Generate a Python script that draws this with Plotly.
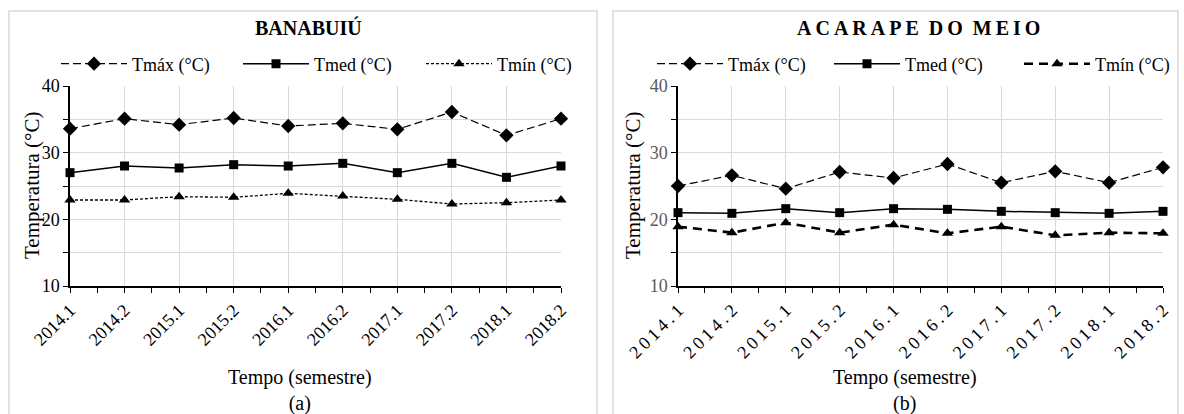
import plotly.graph_objects as go

W, H = 1184, 414

categories = ["2014.1", "2014.2", "2015.1", "2015.2", "2016.1",
              "2016.2", "2017.1", "2017.2", "2018.1", "2018.2"]

# (a) BANABUIÚ
ban_tmax = [33.6, 35.1, 34.2, 35.2, 34.0, 34.4, 33.5, 36.1, 32.6, 35.1]
ban_tmed = [27.0, 28.0, 27.7, 28.2, 28.0, 28.4, 27.0, 28.4, 26.3, 28.0]
ban_tmin = [22.9, 22.9, 23.4, 23.3, 23.9, 23.5, 23.0, 22.3, 22.5, 22.9]

# (b) ACARAPE DO MEIO
aca_tmax = [25.0, 26.6, 24.6, 27.1, 26.2, 28.3, 25.5, 27.2, 25.5, 27.8]
aca_tmed = [21.0, 20.9, 21.6, 21.0, 21.6, 21.5, 21.2, 21.0, 20.9, 21.2]
aca_tmin = [18.9, 18.0, 19.5, 18.0, 19.2, 17.9, 18.9, 17.6, 18.0, 17.9]

series_names = ["Tmáx (°C)", "Tmed (°C)", "Tmín (°C)"]
y_ticks = [10, 15, 20, 25, 30, 35, 40]
y_ticktext = ["10", "", "20", "", "30", "", "40"]

FONT = "Liberation Serif, Times New Roman, serif"
xs = list(range(len(categories)))


def px_x(p):
    return p / W


def px_y(p):
    return 1 - p / H


fig = go.Figure()

left_styles = [
    dict(line=dict(color="black", width=1.2, dash="8px,4px"), marker=dict(symbol="diamond", size=11, color="black")),
    dict(line=dict(color="black", width=1.5, dash="solid"), marker=dict(symbol="square", size=9, color="black")),
    dict(line=dict(color="black", width=1.3, dash="3px,2px"), marker=dict(symbol="triangle-up", size=10, color="black")),
]
right_styles = [
    dict(line=dict(color="black", width=1.2, dash="8px,4px"), marker=dict(symbol="diamond", size=11, color="black")),
    dict(line=dict(color="black", width=1.5, dash="solid"), marker=dict(symbol="square", size=9, color="black")),
    dict(line=dict(color="black", width=2.6, dash="9px,6px"), marker=dict(symbol="triangle-up", size=10, color="black")),
]

# legend text start positions (px)
left_text_x = [132, 314, 497]
right_text_x = [728, 905, 1095]
ITEMW = 66

legend_defs = {}
li = 1
for name, vals, st, tx in zip(series_names, [ban_tmax, ban_tmed, ban_tmin], left_styles, left_text_x):
    lname = "legend" if li == 1 else f"legend{li}"
    fig.add_trace(go.Scatter(x=xs, y=vals, mode="lines+markers", name=name,
                             xaxis="x", yaxis="y", legend=lname, cliponaxis=False, **st))
    legend_defs[lname] = tx
    li += 1
for name, vals, st, tx in zip(series_names, [aca_tmax, aca_tmed, aca_tmin], right_styles, right_text_x):
    lname = f"legend{li}"
    fig.add_trace(go.Scatter(x=xs, y=vals, mode="lines+markers", name=name,
                             xaxis="x2", yaxis="y2", legend=lname, cliponaxis=False, **st))
    legend_defs[lname] = tx
    li += 1

ydom = [px_y(286), px_y(86)]

common_x = dict(range=[0, len(categories) - 1], tickvals=xs, tickangle=-45,
                showline=True, linecolor="black", linewidth=1.5,
                ticks="outside", ticklen=5, tickcolor="black", tickwidth=1.3,
                showgrid=True, gridcolor="#d9d9d9", gridwidth=1, zeroline=False,
                minor=dict(dtick=0.5, tick0=0.5, ticks="outside", ticklen=5, tickcolor="black",
                           tickwidth=1.3, showgrid=False),
                fixedrange=True, automargin=False)
common_y = dict(range=[10, 40], tickvals=y_ticks, ticktext=y_ticktext,
                showline=True, linecolor="black", linewidth=1.5,
                ticks="outside", ticklen=5, tickcolor="black", tickwidth=1.3,
                showgrid=True, gridcolor="#d9d9d9", gridwidth=1, zeroline=False,
                fixedrange=True, automargin=False)

fig.update_layout(
    width=W, height=H,
    margin=dict(l=0, r=0, t=0, b=0, pad=0, autoexpand=False),
    paper_bgcolor="white", plot_bgcolor="white",
    font=dict(family=FONT, size=18, color="black"),
    xaxis=dict(domain=[px_x(70), px_x(561)], anchor="y", ticktext=categories,
               tickfont=dict(size=18, color="black"), **common_x),
    yaxis=dict(domain=ydom, anchor="x", tickfont=dict(size=18, color="black"), **common_y),
    xaxis2=dict(domain=[px_x(678), px_x(1163)], anchor="y2",
                ticktext=["\u2009".join(c) for c in categories],
                tickfont=dict(size=18, color="black"), **common_x),
    yaxis2=dict(domain=ydom, anchor="x2", tickfont=dict(size=18, color="#595959"), **common_y),
    showlegend=True,
)

for lname, tx in legend_defs.items():
    fig.update_layout({lname: dict(x=px_x(tx - ITEMW - 10), y=px_y(64), xanchor="left", yanchor="middle",
                                   font=dict(size=18, color="black", family=FONT), itemwidth=ITEMW,
                                   bgcolor="rgba(0,0,0,0)", borderwidth=0)})

# panel borders
for x0, x1 in [(9, 597), (613, 1178)]:
    fig.add_shape(type="rect", xref="paper", yref="paper",
                  x0=px_x(x0), x1=px_x(x1), y0=-0.05, y1=px_y(11),
                  line=dict(color="#d9d9d9", width=1.5), fillcolor="rgba(0,0,0,0)", layer="below")

ann = []
ann.append(dict(text="<b>BANABUIÚ</b>", x=px_x(308), y=px_y(28), font=dict(size=20)))
title_b = "  ".join("\u2009".join(w) for w in "ACARAPE DO MEIO".split(" "))
ann.append(dict(text="<b>" + title_b + "</b>", x=px_x(918), y=px_y(28), font=dict(size=20)))
for cx in (32, 633):
    ann.append(dict(text="Temperatura (°C)", x=px_x(cx), y=px_y(186), textangle=-90, font=dict(size=21)))
for cx, lab in ((300, "(a)"), (905, "(b)")):
    ann.append(dict(text="Tempo (semestre)<br>" + lab, x=px_x(cx), y=px_y(390), font=dict(size=20)))
for a in ann:
    a.update(xref="paper", yref="paper", showarrow=False, xanchor="center", yanchor="middle")
    a["font"].update(family=FONT, color="black")
fig.update_layout(annotations=ann)

fig.write_html("out.html", config={"displayModeBar": False},
               post_script="document.body.style.margin='0';document.body.style.padding='0';")
